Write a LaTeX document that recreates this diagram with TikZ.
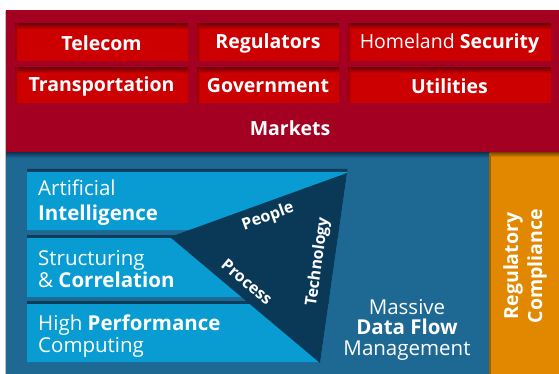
\documentclass[tikz,border=0pt]{standalone}
\usepackage{fontspec}
\setmainfont{Open Sans}
\definecolor{panelred}{RGB}{163,0,34}
\definecolor{boxred}{RGB}{204,0,0}
\definecolor{boxshade}{RGB}{120,0,10}
\definecolor{panelblue}{RGB}{30,104,148}
\definecolor{barblue}{RGB}{8,156,211}
\definecolor{tridark}{RGB}{10,57,88}
\definecolor{shadowblue}{RGB}{14,60,90}
\definecolor{orangec}{RGB}{226,136,0}
\begin{document}
\begin{tikzpicture}[x=1pt,y=-1pt,
  redbox/.style={fill=boxred, inner sep=0, text=white, font=\fontsize{19.5}{22}\selectfont\bfseries},
  lbl/.style={text=white, inner sep=0, anchor=base west, font=\fontsize{20.5}{24}\selectfont},
  trilbl/.style={text=white, inner sep=0, font=\fontsize{16}{18}\selectfont\bfseries},
]
\useasboundingbox (0,0) rectangle (559,374);
\fill[white] (0,0) rectangle (559,374);
% panel shadows
\fill[black!25] (4.5,11) rectangle (559,374);
% panels
\fill[panelred] (6,10) rectangle (559,153);
\fill[panelblue] (6,153) rectangle (490,374);
\fill[orangec] (490,153) rectangle (559,374);
\shade[top color=shadowblue, bottom color=panelblue] (6,153) rectangle (490,158);
\shade[top color=orangec!60!black, bottom color=orangec] (490,153) rectangle (559,157);
\fill[black!30!orangec] (489,153) rectangle (491,374);

% red boxes
\foreach \xa/\xb/\ya/\yb in {15/188/24/61, 197/339/24/61, 348/551/24/61, 15/188/68/103, 197/339/68/103, 348/551/68/103}{
  \fill[boxred] (\xa,\ya) rectangle (\xb,\yb);
  \shade[top color=boxshade, bottom color=boxred] (\xa,\ya) rectangle (\xb,\ya+5);
  \shade[left color=boxshade, right color=boxred, opacity=0.6] (\xa,\ya) rectangle (\xa+3,\yb);
}
\node[redbox] (telecom) at (101.5,43) {Telecom};
\node[redbox] (regulators) at (268,43) {Regulators};
\node[redbox] (homeland) at (449.5,43) {\mdseries Homeland \bfseries Security};
\node[redbox] (transport) at (101.5,86) {Transportation};
\node[redbox] (government) at (268,86) {Government};
\node[redbox] (utilities) at (449.5,86) {Utilities};
\node[redbox, fill=none] (markets) at (290,128) {Markets};

% light blue bars with shadows
\fill[shadowblue] (27,169) -- (347.5,169) -- (347.1,172) -- (27,172) -- cycle;
\fill[shadowblue] (27,235) -- (338.3,235) -- (337.8,238) -- (27,238) -- cycle;
\fill[shadowblue] (27,301) -- (328.8,301) -- (328.4,304) -- (27,304) -- cycle;
\fill[barblue] (27,172) -- (347.1,172) -- (338.9,230) -- (27,230) -- cycle;
\fill[barblue] (27,238) -- (337.8,238) -- (329.4,297) -- (27,297) -- cycle;
\fill[barblue] (27,304) -- (328.4,304) -- (320.1,362) -- (27,362) -- cycle;

% triangle
\coordinate (tl) at (170,237);
\coordinate (tr) at (347,173);
\coordinate (tb) at (320,363);
\fill[tridark] (tl) -- (tr) -- (tb) -- cycle;
\node[trilbl, rotate=20] (people) at (268,217) {People};
\node[trilbl, rotate=-40] (process) at (247,282) {Process};
\node[trilbl, rotate=82] (technology) at (318,262) {Technology};

% bar texts
\node[lbl] (ai1) at (38,196) {Artificial};
\node[lbl] (ai2) at (38,220) {\bfseries Intelligence};
\node[lbl] (sc1) at (38,265) {Structuring};
\node[lbl] (sc2) at (38,287) {\& \bfseries Correlation};
\node[lbl] (hp1) at (38,330) {High \bfseries Performance};
\node[lbl] (hp2) at (38,352) {Computing};

% massive data flow
\node[lbl, anchor=base] (mdf1) at (407,314) {Massive};
\node[lbl, anchor=base] (mdf2) at (407,334) {\bfseries Data Flow};
\node[lbl, anchor=base] (mdf3) at (407,355) {Management};

% regulatory compliance
\node[redbox, fill=none, rotate=90, align=center, font=\fontsize{19.5}{24}\selectfont\bfseries] (regcomp) at (525,266) {Regulatory\\Compliance};
\end{tikzpicture}
\end{document}
